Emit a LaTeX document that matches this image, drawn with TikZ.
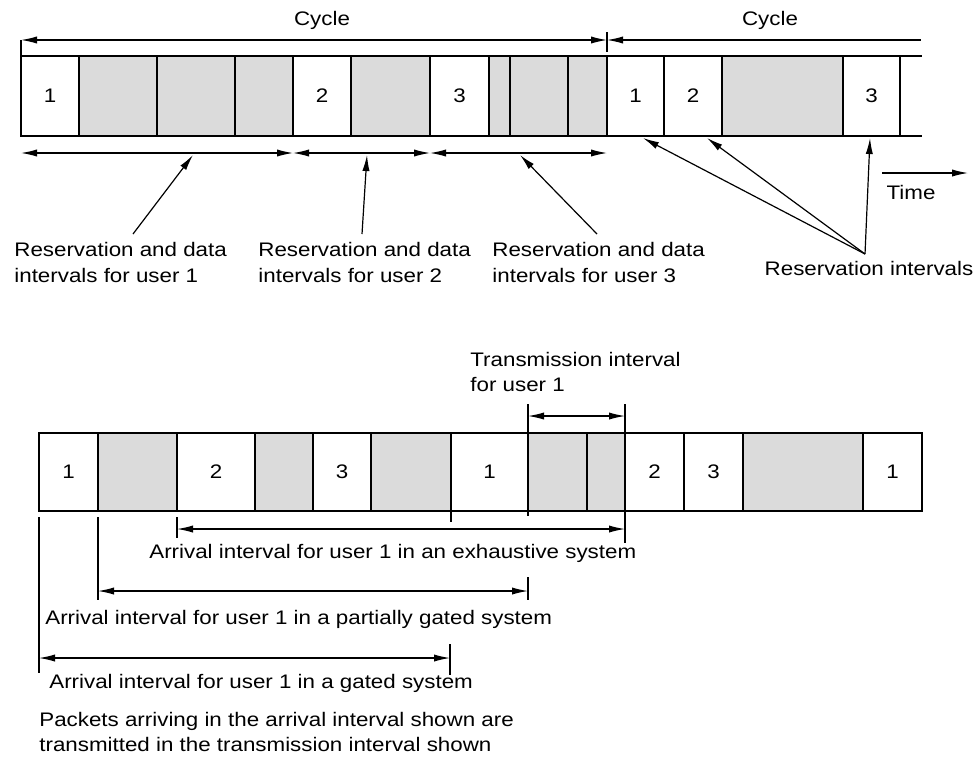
\documentclass[tikz,border=0pt]{standalone}
\usepackage{fontspec}
\setmainfont{Liberation Sans}[FakeStretch=1.14]
\usetikzlibrary{arrows.meta,fit}
\newcommand\figfont{\fontsize{9.8}{13}\selectfont}
\begin{document}
\begin{tikzpicture}[x=0.5pt,y=-0.5pt,
  >={Latex[length=8pt,width=3.6pt]},
  every node/.style={font=\figfont, inner sep=0pt},
  cellbox/.style={draw, line width=1.3pt, inner sep=0pt, outer sep=0pt},
  wcell/.style={cellbox, fill=white},
  gcell/.style={cellbox, fill=black!14},
  strip/.style={line width=1.3pt, line cap=rect},
  thin/.style={line width=0.6pt},
  txt/.style={anchor=west, align=left}]
\useasboundingbox (0,0) rectangle (977,767);

% ---------------- top strip ----------------
\foreach \n/\xa/\xb/\t/\s in {a1/21/79/1/wcell, a2/79/157//gcell, a3/157/235//gcell,
  a4/235/293//gcell, a5/293/351/2/wcell, a6/351/430//gcell, a7/430/489/3/wcell,
  a8/489/510//gcell, a9/510/568//gcell, a10/568/607//gcell, a11/607/664/1/wcell,
  a12/664/722/2/wcell, a13/722/843//gcell, a14/843/900/3/wcell}
  {\node[\s, fit={(\xa,56) (\xb,136)}] (\n) {};
   \node (\n-t) at (\n.center) {\t};}
\coordinate (stT) at (921,56);
\coordinate (stB) at (921,136);
\draw[strip] (a14.north east) -- (stT);
\draw[strip] (a14.south east) -- (stB);

% cycle arrows
\coordinate (cyL) at (21,40);
\coordinate (cyM) at (607,40);
\coordinate (cyR) at (921,40);
\coordinate (tkT) at (607,32);
\coordinate (tkB) at (607,52);
\draw[thin] (a1.north west) -- (cyL);
\draw[thin] (tkT) -- (tkB);
\draw[thin,<->] (cyL) -- (cyM);
\draw[thin,<-] (cyM) -- (cyR);
\node (cyc1) at (322,20) {Cycle};
\node (cyc2) at (770,20) {Cycle};

% user intervals
\coordinate (u0) at (21,153);
\coordinate (u1) at (293,153);
\coordinate (u2) at (430,153);
\coordinate (u3) at (607,153);
\draw[thin,<->] (u0) -- (u1);
\draw[thin,<->] (u1) -- (u2);
\draw[thin,<->] (u2) -- (u3);

\node[txt] (l1) at (14,262) {Reservation and data\\intervals for user 1};
\node[txt] (l2) at (258,262) {Reservation and data\\intervals for user 2};
\node[txt] (l3) at (492,262) {Reservation and data\\intervals for user 3};
\coordinate (p1s) at (133,234); \coordinate (p1e) at (193,155);
\coordinate (p2s) at (362,234); \coordinate (p2e) at (367,155);
\coordinate (p3s) at (597,234); \coordinate (p3e) at (520,155);
\draw[thin,->] (p1s) -- (p1e);
\draw[thin,->] (p2s) -- (p2e);
\draw[thin,->] (p3s) -- (p3e);

% reservation intervals
\node (ri) at (869,268) {Reservation intervals};
\coordinate (rc) at (865,254);
\coordinate (r1) at (643,138);
\coordinate (r2) at (707,138);
\coordinate (r3) at (870,138);
\draw[thin,->] (rc) -- (r1);
\draw[thin,->] (rc) -- (r2);
\draw[thin,->] (rc) -- (r3);

% time
\coordinate (tA) at (882,173);
\coordinate (tB) at (968,173);
\draw[thin,->] (tA) -- (tB);
\node (time) at (911,192) {Time};

% ---------------- bottom strip ----------------
\foreach \n/\xa/\xb/\t/\s in {b1/39/98/1/wcell, b2/98/177//gcell, b3/177/255/2/wcell,
  b4/255/313//gcell, b5/313/371/3/wcell, b6/371/451//gcell, b7/451/528/1/wcell,
  b8/528/587//gcell, b9/587/625//gcell, b10/625/684/2/wcell, b11/684/743/3/wcell,
  b12/743/863//gcell, b13/863/922/1/wcell}
  {\node[\s, fit={(\xa,433) (\xb,511)}] (\n) {};
   \node (\n-t) at (\n.center) {\t};}

% transmission interval
\node[txt, font=\fontsize{9.8}{12.5}\selectfont] (tl) at (470,372) {Transmission interval\\for user 1};
\coordinate (trL) at (528,404);
\coordinate (trR) at (625,404);
\coordinate (trAL) at (528,416);
\coordinate (trAR) at (625,416);
\draw[thin] (trL) -- (b8.north west);
\draw[thin] (trR) -- (b9.north east);
\draw[thin,<->] (trAL) -- (trAR);

% exhaustive
\coordinate (e1t) at (177,517); \coordinate (e1b) at (177,538);
\coordinate (e2b) at (625,543);
\coordinate (eL) at (177,529); \coordinate (eR) at (625,529);
\coordinate (k1) at (451,522); \coordinate (k2) at (528,516);
\draw[thin] (e1t) -- (e1b);
\draw[thin] (b9.south east) -- (e2b);
\draw[thin] (b7.south west) -- (k1);
\draw[thin] (b8.south west) -- (k2);
\draw[thin,<->] (eL) -- (eR);
\node[txt] (et) at (149,553) {Arrival interval for user 1 in an exhaustive system};

% partially gated
\coordinate (g1t) at (98,517); \coordinate (g1b) at (98,600);
\coordinate (g2t) at (528,577); \coordinate (g2b) at (528,600);
\coordinate (gL) at (98,591); \coordinate (gR) at (528,591);
\draw[thin] (g1t) -- (g1b);
\draw[thin] (g2t) -- (g2b);
\draw[thin,<->] (gL) -- (gR);
\node[txt] (pt) at (45,619) {Arrival interval for user 1 in a partially gated system};

% gated
\coordinate (h1t) at (39,517); \coordinate (h1b) at (39,673);
\coordinate (h2t) at (450,644); \coordinate (h2b) at (450,675);
\coordinate (hL) at (39,658); \coordinate (hR) at (450,658);
\draw[thin] (h1t) -- (h1b);
\draw[thin] (h2t) -- (h2b);
\draw[thin,<->] (hL) -- (hR);
\node[txt] (gt) at (49,683) {Arrival interval for user 1 in a gated system};

\node[txt, font=\fontsize{9.8}{12.5}\selectfont] (pk) at (39,732) {Packets arriving in the arrival interval shown are\\transmitted in the transmission interval shown};
\end{tikzpicture}
\end{document}
